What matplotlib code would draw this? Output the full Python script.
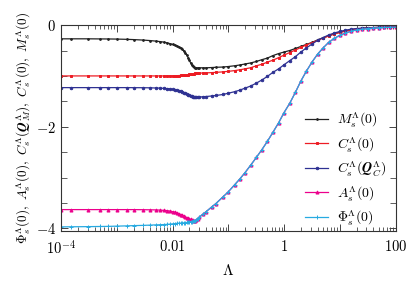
import numpy as np
import matplotlib
matplotlib.use("Agg")
import matplotlib.pyplot as plt
from matplotlib.ticker import FixedLocator, FixedFormatter, MultipleLocator, LogLocator, NullFormatter

# ---- data ----
lam = [1e-4, 1.5e-4, 3e-4, 5e-4, 7e-4, 1e-3, 1.5e-3, 2e-3, 3e-3, 4e-3, 5e-3, 6e-3, 7e-3,
       8e-3, 9e-3, 0.010, 0.011, 0.012, 0.013, 0.014, 0.015, 0.016, 0.017, 0.018, 0.019,
       0.020, 0.021, 0.022, 0.023, 0.024, 0.025, 0.026, 0.028, 0.030, 0.035, 0.040, 0.050,
       0.060, 0.080, 0.10, 0.13, 0.16, 0.20, 0.25, 0.32, 0.40, 0.50, 0.63, 0.80, 1.0, 1.26,
       1.6, 2.0, 2.5, 3.2, 4.0, 5.0, 6.3, 8.0, 10, 12.6, 16, 20, 25, 32, 40, 50, 63, 80, 100]

M_s = [-0.27, -0.27, -0.27, -0.272, -0.273, -0.275, -0.28, -0.285, -0.295, -0.305, -0.315,
       -0.325, -0.335, -0.35, -0.365, -0.38, -0.395, -0.41, -0.43, -0.45, -0.48, -0.51,
       -0.55, -0.59, -0.64, -0.69, -0.74, -0.78, -0.81, -0.83, -0.84, -0.84, -0.84, -0.84,
       -0.84, -0.84, -0.835, -0.83, -0.825, -0.815, -0.80, -0.785, -0.765, -0.745, -0.715,
       -0.68, -0.65, -0.60, -0.56, -0.53, -0.50, -0.46, -0.42, -0.38, -0.34, -0.29, -0.25,
       -0.21, -0.17, -0.14, -0.115, -0.09, -0.075, -0.065, -0.055, -0.05, -0.045, -0.042,
       -0.04, -0.04]

C_0 = [-1.0, -1.0, -1.0, -1.0, -1.0, -1.0, -1.0, -1.0, -1.0, -1.0, -1.0, -1.0, -1.0,
       -1.0, -1.0, -1.0, -0.998, -0.995, -0.993, -0.99, -0.988, -0.985, -0.982, -0.978,
       -0.974, -0.97, -0.965, -0.96, -0.956, -0.953, -0.95, -0.948, -0.946, -0.945, -0.942,
       -0.94, -0.935, -0.93, -0.92, -0.91, -0.895, -0.88, -0.86, -0.84, -0.80, -0.77, -0.73,
       -0.69, -0.64, -0.59, -0.54, -0.49, -0.44, -0.39, -0.345, -0.30, -0.255, -0.215,
       -0.175, -0.145, -0.12, -0.095, -0.078, -0.066, -0.056, -0.05, -0.045, -0.042,
       -0.04, -0.04]

C_Q = [-1.23, -1.23, -1.23, -1.23, -1.23, -1.23, -1.23, -1.231, -1.232, -1.234, -1.237,
       -1.24, -1.245, -1.25, -1.257, -1.265, -1.272, -1.28, -1.29, -1.30, -1.315, -1.33,
       -1.345, -1.36, -1.373, -1.385, -1.393, -1.40, -1.405, -1.408, -1.41, -1.412, -1.415,
       -1.415, -1.41, -1.405, -1.395, -1.385, -1.365, -1.34, -1.31, -1.28, -1.24, -1.20,
       -1.14, -1.08, -1.01, -0.93, -0.86, -0.78, -0.70, -0.62, -0.53, -0.45, -0.37, -0.30,
       -0.245, -0.195, -0.155, -0.125, -0.10, -0.08, -0.068, -0.06, -0.053, -0.048,
       -0.044, -0.042, -0.04, -0.04]

A_s = [-3.63, -3.63, -3.63, -3.63, -3.63, -3.63, -3.63, -3.63, -3.632, -3.634, -3.636,
       -3.64, -3.645, -3.65, -3.66, -3.67, -3.68, -3.695, -3.71, -3.73, -3.745, -3.76,
       -3.775, -3.79, -3.80, -3.81, -3.82, -3.83, -3.838, -3.845, -3.848, -3.84, -3.81,
       -3.78, -3.72, -3.67, -3.58, -3.51, -3.38, -3.28, -3.14, -3.03, -2.90, -2.76, -2.60,
       -2.45, -2.29, -2.11, -1.92, -1.72, -1.54, -1.32, -1.10, -0.91, -0.72, -0.57, -0.45,
       -0.34, -0.26, -0.20, -0.155, -0.12, -0.095, -0.08, -0.068, -0.058, -0.052, -0.047,
       -0.043, -0.04]

Phi_s = [-3.97, -3.968, -3.965, -3.962, -3.96, -3.955, -3.95, -3.945, -3.94, -3.935, -3.93,
         -3.927, -3.924, -3.92, -3.915, -3.91, -3.905, -3.90, -3.897, -3.895, -3.892, -3.89,
         -3.887, -3.883, -3.878, -3.873, -3.868, -3.864, -3.858, -3.852, -3.848, -3.84,
         -3.81, -3.78, -3.72, -3.67, -3.58, -3.51, -3.38, -3.28, -3.14, -3.03, -2.90, -2.76,
         -2.60, -2.45, -2.29, -2.11, -1.92, -1.72, -1.54, -1.32, -1.10, -0.91, -0.72, -0.57,
         -0.45, -0.34, -0.26, -0.20, -0.155, -0.12, -0.095, -0.08, -0.068, -0.058, -0.052,
         -0.047, -0.043, -0.04]

labels = [r'$M_s^\Lambda(\mathbf{0})$', r'$C_s^\Lambda(\mathbf{0})$',
          r'$C_s^\Lambda(\mathbfit{Q}_C^\Lambda)$', r'$A_s^\Lambda(\mathbf{0})$',
          r'$\Phi_s^\Lambda(\mathbf{0})$']
ylabel = (r'$\Phi_s^\Lambda(\mathbf{0}),\ A_s^\Lambda(\mathbf{0}),\ '
          r'C_s^\Lambda(\mathbfit{Q}_M^\Lambda),\ C_s^\Lambda(\mathbf{0}),\ M_s^\Lambda(\mathbf{0})$')
xlabel = r'$\Lambda$'
xtick_vals = [1e-4, 1e-3, 1e-2, 1e-1, 1, 10, 100]
xtick_labels = [r'$10^{-4}$', '', r'$0.01$', '', r'$1$', '', r'$100$']
ytick_vals = [0, -2, -4]
ytick_labels = [r'$0$', r'$-2$', r'$-4$']

colors = ['#222222', '#ed1c24', '#2e3192', '#ec008c', '#27aae1']
markers = ['.', 's', 'o', '^', '+']
msizes = [2.5, 1.8, 1.8, 2.2, 3.0]

plt.rcParams['mathtext.fontset'] = 'cm'
plt.rcParams['font.family'] = ['DejaVu Serif']

fig = plt.figure(figsize=(4.07, 2.82), dpi=100)
ax = fig.add_axes([0.150, 0.181, 0.822, 0.730])

series = [M_s, C_0, C_Q, A_s, Phi_s]
for y, c, m, ms, lab in zip(series, colors, markers, msizes, labels):
    ax.plot(lam, y, color=c, marker=m, ms=ms, lw=0.9, mew=0.7, label=lab)

ax.set_xscale('log')
ax.set_xlim(1e-4, 100)
ax.set_ylim(-4.05, 0)

ax.xaxis.set_major_locator(FixedLocator(xtick_vals))
ax.xaxis.set_major_formatter(FixedFormatter(xtick_labels))
ax.xaxis.set_minor_locator(LogLocator(base=10, subs=np.arange(2, 10), numticks=20))
ax.xaxis.set_minor_formatter(NullFormatter())
ax.yaxis.set_major_locator(FixedLocator(ytick_vals))
ax.yaxis.set_major_formatter(FixedFormatter(ytick_labels))
ax.yaxis.set_minor_locator(MultipleLocator(0.5))

ax.tick_params(which='both', direction='in', top=True, right=True, labelsize=10.5,
               color='#444444')
ax.tick_params(which='major', length=5, width=0.7)
ax.tick_params(which='minor', length=3, width=0.6)
ax.tick_params(axis='y', which='minor', length=4.5)
ax.tick_params(axis='x', pad=6)
for s in ax.spines.values():
    s.set_linewidth(0.8)
    s.set_color('#333333')

ax.set_xlabel(xlabel, fontsize=11, labelpad=4)
ax.set_ylabel(ylabel, fontsize=9.5, labelpad=2)

ax.legend(loc='lower right', bbox_to_anchor=(1.0, -0.03), frameon=False, fontsize=10,
          handlelength=1.7, handletextpad=0.6, labelspacing=0.42, borderaxespad=0.3)

fig.savefig('out.png', dpi=100)
